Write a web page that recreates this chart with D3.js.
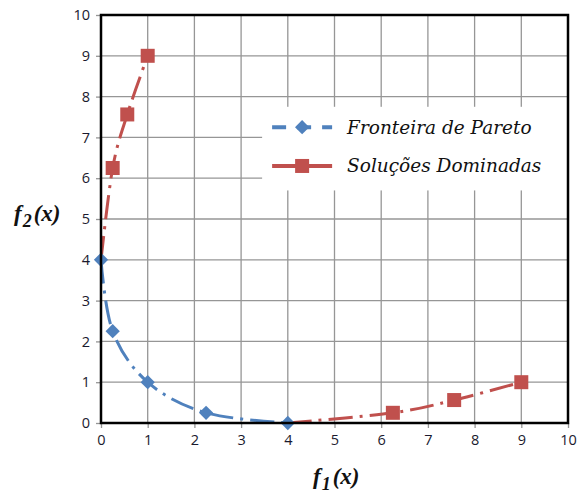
<!DOCTYPE html>
<html>
<head>
<meta charset="utf-8">
<script src="https://cdn.jsdelivr.net/npm/d3@7"></script>
<style>
  body { margin: 0; background: #fff; }
  svg text { font-family: "Open Sans", "DejaVu Sans", sans-serif; }
</style>
</head>
<body>
<div id="chart"></div>
<script>
// Pareto front (f1, f2)
const paretoF1 = [0, 0.25, 1, 2.25, 4];
const paretoF2 = [4, 2.25, 1, 0.25, 0];
// dominated solutions, two branches
// the first point of each branch carries no marker
const domUpperF1 = [0, 0.25, 0.5625, 1];
const domUpperF2 = [4, 6.25, 7.5625, 9];
const domLowerF1 = [4, 6.25, 7.5625, 9];
const domLowerF2 = [0, 0.25, 0.5625, 1];
const xTicks = [0, 1, 2, 3, 4, 5, 6, 7, 8, 9, 10];
const yTicks = [0, 1, 2, 3, 4, 5, 6, 7, 8, 9, 10];
const seriesNames = ["Fronteira de Pareto", "Soluções Dominadas"];

const blue = "#4f81bd", red = "#c0504d";
const W = 579, H = 496;
const margin = {top: 15, right: 11, bottom: 73, left: 101};
const width = W - margin.left - margin.right,
      height = H - margin.top - margin.bottom;

const svg = d3.select("#chart").append("svg")
    .attr("width", W).attr("height", H);
const g = svg.append("g")
    .attr("transform", "translate(" + margin.left + "," + margin.top + ")");

const x = d3.scaleLinear().domain([0, 10]).range([0, width]);
const y = d3.scaleLinear().domain([0, 10]).range([height, 0]);

// grid
g.append("g").selectAll("line").data(xTicks).enter().append("line")
    .attr("x1", d => x(d)).attr("x2", d => x(d))
    .attr("y1", 0).attr("y2", height)
    .attr("stroke", "#969696").attr("stroke-width", 1.3);
g.append("g").selectAll("line").data(yTicks).enter().append("line")
    .attr("x1", 0).attr("x2", width)
    .attr("y1", d => y(d)).attr("y2", d => y(d))
    .attr("stroke", "#969696").attr("stroke-width", 1.3);

// axes
const xAxis = g.append("g")
    .attr("transform", "translate(0," + height + ")")
    .call(d3.axisBottom(x).tickValues(xTicks).tickSize(5).tickFormat(d3.format("d")));
const yAxis = g.append("g")
    .call(d3.axisLeft(y).tickValues(yTicks).tickSize(5).tickFormat(d3.format("d")));
[xAxis, yAxis].forEach(a => {
  a.select(".domain").remove();
  a.selectAll(".tick line").attr("stroke", "#969696").attr("stroke-width", 1.3);
  a.selectAll(".tick text").attr("fill", "#1a1a2e")
      .style("font-size", "14.5px");
});
xAxis.selectAll(".tick text").attr("dy", "1.05em").attr("y", 7);
yAxis.selectAll(".tick text").attr("x", -11);

// legend background (hides the grid behind it)
g.append("rect")
    .attr("x", x(3.45)).attr("y", y(7.75))
    .attr("width", x(10) - x(3.45) - 1).attr("height", y(5.7) - y(7.75))
    .attr("fill", "#fff");

const line = d3.line()
    .x(d => x(d[0])).y(d => y(d[1]))
    .curve(d3.curveCatmullRom.alpha(0));

const dashDot = "24,7,3,7";

function drawLine(f1, f2, color) {
  g.append("path")
      .datum(d3.zip(f1, f2))
      .attr("d", line)
      .attr("fill", "none")
      .attr("stroke", color)
      .attr("stroke-width", 3)
      .attr("stroke-dasharray", dashDot);
}

drawLine(domUpperF1, domUpperF2, red);
drawLine(domLowerF1, domLowerF2, red);
drawLine(paretoF1, paretoF2, blue);

// markers
const sq = 14;
const redPts = d3.zip(domUpperF1, domUpperF2).slice(1)
    .concat(d3.zip(domLowerF1, domLowerF2).slice(1));
g.append("g").selectAll("rect").data(redPts).enter().append("rect")
    .attr("x", d => x(d[0]) - sq / 2).attr("y", d => y(d[1]) - sq / 2)
    .attr("width", sq).attr("height", sq)
    .attr("fill", red);

const diamond = d3.symbol().type(d3.symbolDiamond2).size(130);
g.append("g").selectAll("path").data(d3.zip(paretoF1, paretoF2)).enter().append("path")
    .attr("transform", d => "translate(" + x(d[0]) + "," + y(d[1]) + ")")
    .attr("d", diamond)
    .attr("fill", blue);

// frame
g.append("rect")
    .attr("width", width).attr("height", height)
    .attr("fill", "none").attr("stroke", "#000").attr("stroke-width", 2.5);

// legend
const lg = g.append("g");
const lgY = [y(7.25), y(6.3)];
const lgX0 = x(3.45) + 10, lgX1 = lgX0 + 60;
lg.append("line")
    .attr("x1", lgX0).attr("x2", lgX1).attr("y1", lgY[0]).attr("y2", lgY[0])
    .attr("stroke", blue).attr("stroke-width", 4).attr("stroke-dasharray", "14,11");
lg.append("path")
    .attr("transform", "translate(" + (lgX0 + 30) + "," + lgY[0] + ")")
    .attr("d", diamond).attr("fill", blue);
lg.append("line")
    .attr("x1", lgX0).attr("x2", lgX1).attr("y1", lgY[1]).attr("y2", lgY[1])
    .attr("stroke", red).attr("stroke-width", 4);
lg.append("rect")
    .attr("x", lgX0 + 30 - sq / 2).attr("y", lgY[1] - sq / 2)
    .attr("width", sq).attr("height", sq).attr("fill", red);
lg.selectAll("text").data(seriesNames).enter().append("text")
    .attr("x", lgX1 + 15).attr("y", (d, i) => lgY[i])
    .attr("dy", "0.35em")
    .style("font-family", "'DejaVu Serif', 'Liberation Serif', serif")
    .style("font-style", "italic")
    .style("font-size", "18.5px")
    .attr("fill", "#111")
    .text(d => d);

// axis titles
function axisTitle(tx, ty, sub) {
  const t = svg.append("text")
      .attr("x", tx).attr("y", ty)
      .style("font-family", "'Liberation Serif', serif")
      .style("font-style", "italic").style("font-weight", "bold")
      .style("font-size", "23px").attr("fill", "#111");
  t.append("tspan").text("f");
  t.append("tspan").attr("dy", 6).attr("dx", 1).style("font-size", "18px").text(sub);
  t.append("tspan").attr("dy", -6).attr("dx", 2).text("(x)");
}
axisTitle(313, 484, "1");
axisTitle(14, 221, "2");
</script>
</body>
</html>
